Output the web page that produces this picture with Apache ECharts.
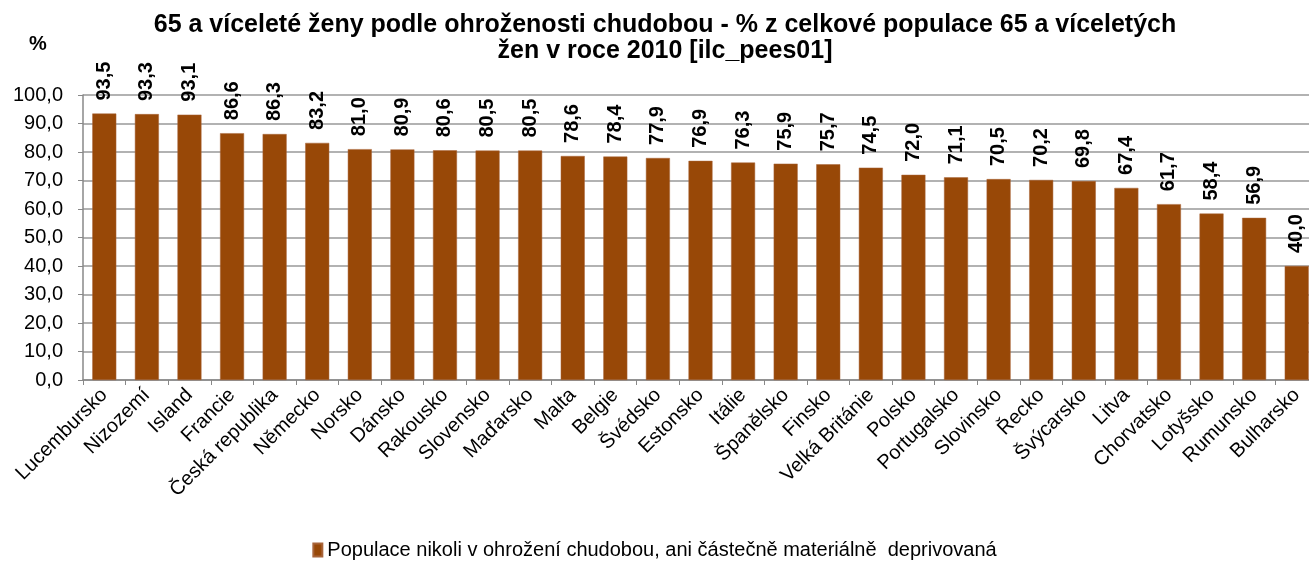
<!DOCTYPE html>
<html>
<head>
<meta charset="utf-8">
<script src="https://cdn.jsdelivr.net/npm/echarts@6/dist/echarts.min.js"></script>
<style>
html, body { margin: 0; padding: 0; background: #fff; }
#chart { width: 1309px; height: 569px; }
</style>
</head>
<body>
<div id="chart"></div>
<script>
// data
var countries = ['Lucembursko', 'Nizozemí', 'Island', 'Francie', 'Česká republika', 'Německo', 'Norsko', 'Dánsko',
    'Rakousko', 'Slovensko', 'Maďarsko', 'Malta', 'Belgie', 'Švédsko', 'Estonsko', 'Itálie', 'Španělsko', 'Finsko',
    'Velká Británie', 'Polsko', 'Portugalsko', 'Slovinsko', 'Řecko', 'Švýcarsko', 'Litva', 'Chorvatsko', 'Lotyšsko',
    'Rumunsko', 'Bulharsko'];
var values = [93.5, 93.3, 93.1, 86.6, 86.3, 83.2, 81.0, 80.9, 80.6, 80.5, 80.5, 78.6, 78.4, 77.9, 76.9, 76.3, 75.9,
    75.7, 74.5, 72.0, 71.1, 70.5, 70.2, 69.8, 67.4, 61.7, 58.4, 56.9, 40.0];
var seriesName = 'Populace nikoli v ohrožení chudobou, ani částečně materiálně  deprivovaná';

function fmt(v) {
    return v.toFixed(1).replace('.', ',');
}

var chart = echarts.init(document.getElementById('chart'));
var option = {
    animation: false,
    textStyle: { fontFamily: 'Liberation Sans, Arial, sans-serif' },
    title: [{
        text: '65 a víceleté ženy podle ohroženosti chudobou - % z celkové populace 65 a víceletých\nžen v roce 2010 [ilc_pees01]',
        left: 660,
        top: 7,
        textAlign: 'center',
        textStyle: { fontSize: 25, fontWeight: 'bold', color: '#000', lineHeight: 26 }
    }, {
        text: '%',
        left: 24,
        top: 29,
        textStyle: { fontSize: 20, fontWeight: 'bold', color: '#000' }
    }],
    legend: {
        bottom: 4,
        left: 'center',
        itemWidth: 9,
        itemHeight: 13,
        itemGap: 10,
        icon: 'rect',
        textStyle: { fontSize: 20, color: '#000' },
        data: [seriesName]
    },
    grid: { left: 83, top: 95, width: 1235, height: 285, outerBoundsMode: 'none' },
    xAxis: {
        type: 'category',
        data: countries,
        axisLine: { lineStyle: { color: '#888', width: 1.5 } },
        axisTick: { show: true, length: 5, lineStyle: { color: '#888' } },
        axisLabel: { interval: 0, rotate: 45, fontSize: 20, color: '#000', margin: 12 }
    },
    yAxis: {
        type: 'value',
        min: 0,
        max: 100,
        interval: 10,
        axisLine: { show: true, lineStyle: { color: '#888', width: 1.5 } },
        axisTick: { show: true, length: 5, lineStyle: { color: '#888' } },
        splitLine: { lineStyle: { color: '#999', width: 1.5 } },
        axisLabel: { fontSize: 20, color: '#000', margin: 20, formatter: function (v) { return fmt(v); } }
    },
    series: [{
        name: seriesName,
        type: 'bar',
        data: values,
        barWidth: 24,
        itemStyle: { color: '#984807', borderColor: '#a8643a', borderWidth: 0.5 },
        label: {
            show: true,
            position: 'top',
            rotate: 90,
            align: 'left',
            verticalAlign: 'middle',
            distance: 13,
            fontSize: 20,
            fontWeight: 'bold',
            color: '#000',
            formatter: function (p) { return fmt(p.value); }
        }
    }]
};
chart.setOption(option);
</script>
</body>
</html>
